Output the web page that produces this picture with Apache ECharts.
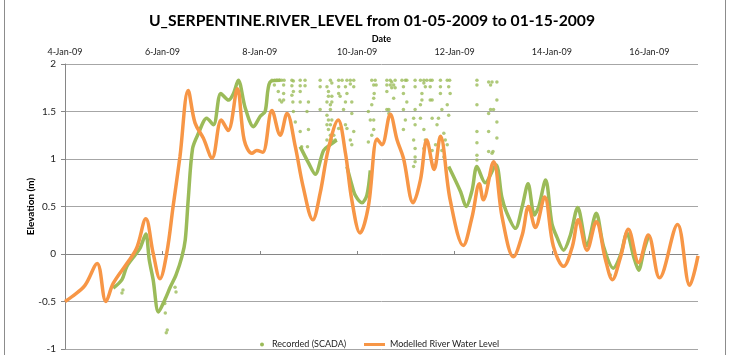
<!DOCTYPE html>
<html>
<head>
<meta charset="utf-8">
<title>U_SERPENTINE.RIVER_LEVEL</title>
<script src="https://cdn.jsdelivr.net/npm/echarts@6/dist/echarts.min.js"></script>
<style>
  html, body { margin: 0; padding: 0; background: #ffffff; }
  #chart { width: 730px; height: 355px; }
</style>
</head>
<body>
<div id="chart"></div>
<script>
// Day of January 2009 (fractional) and elevation in metres.
const xTicks = [4, 6, 8, 10, 12, 14, 16];
const yTicks = [-1, -0.5, 0, 0.5, 1, 1.5, 2];

// Modelled river water level
const modelled = [
  [4.00,-0.50],[4.14,-0.45],[4.41,-0.33],[4.66,-0.10],[4.84,-0.50],[4.99,-0.31],
  [5.27,-0.10],[5.47,0.06],[5.66,0.37],[5.81,0.01],[5.95,-0.26],[6.09,0.01],
  [6.22,0.50],[6.36,1.02],[6.53,1.72],[6.67,1.38],[6.84,1.22],[7.02,1.01],
  [7.21,1.41],[7.35,1.30],[7.54,1.74],[7.68,1.20],[7.84,1.06],[7.94,1.09],
  [8.06,1.07],[8.25,1.51],[8.42,1.25],[8.56,1.48],[8.73,1.13],[8.89,0.71],
  [9.09,0.36],[9.24,0.64],[9.41,1.11],[9.61,1.41],[9.76,1.06],[9.89,0.57],
  [10.06,0.22],[10.23,0.50],[10.41,1.21],[10.51,1.15],[10.68,1.47],[10.82,1.20],
  [10.95,1.01],[11.15,0.54],[11.30,0.78],[11.43,1.20],[11.58,0.89],[11.71,1.24],
  [11.91,0.57],[12.18,0.09],[12.36,0.39],[12.51,0.74],[12.59,0.57],[12.80,0.97],
  [12.98,0.38],[13.21,-0.03],[13.39,0.20],[13.52,0.50],[13.66,0.28],[13.85,0.60],
  [14.03,0.08],[14.24,-0.13],[14.42,0.08],[14.54,0.36],[14.72,0.04],[14.91,0.34],
  [15.10,-0.06],[15.24,-0.27],[15.41,-0.03],[15.57,0.26],[15.78,-0.09],[15.98,0.20],
  [16.21,-0.25],[16.58,0.31],[16.83,-0.33],[17.00,-0.02]
];

// Recorded (SCADA) continuous trace; null levels mark gaps in the record
const recordedTrace = [
  [4.99,-0.36],[5.17,-0.27],[5.27,-0.13],[5.44,-0.01],[5.54,0.06],[5.66,0.21],
  [5.73,-0.06],[5.81,-0.27],[5.92,-0.61],[6.06,-0.47],[6.16,-0.35],[6.28,-0.22],
  [6.40,-0.03],[6.47,0.15],[6.53,0.57],[6.62,1.11],[6.74,1.27],[6.91,1.43],
  [7.05,1.36],[7.20,1.69],[7.36,1.62],[7.46,1.69],[7.56,1.83],[7.70,1.54],
  [7.87,1.34],[8.01,1.45],[8.11,1.50],[8.21,1.81],[8.42,1.83],
  [8.60,null],
  [8.83,1.13],[9.00,0.96],[9.14,0.84],[9.31,1.09],[9.45,1.15],[9.58,1.20],
  [9.68,null],
  [9.79,0.92],[9.89,0.73],[9.96,0.62],[10.10,0.54],[10.20,0.62],[10.27,0.88],
  [11.00,null],
  [11.88,0.92],[12.12,0.66],[12.24,0.50],[12.36,0.67],[12.46,0.92],[12.63,0.75],
  [12.85,0.94],[12.97,0.60],[13.06,0.45],[13.25,0.27],[13.39,0.50],[13.51,0.74],
  [13.64,0.41],[13.73,0.50],[13.87,0.78],[14.00,0.32],[14.10,0.18],[14.24,0.04],
  [14.38,0.20],[14.53,0.49],[14.72,0.09],[14.91,0.43],[15.06,0.08],[15.26,-0.15],
  [15.41,-0.01],[15.54,0.22],[15.68,-0.03],[15.78,-0.17],[15.89,0.04],[15.99,0.20]
];

// Recorded (SCADA) isolated readings
const recordedSpikes = [
  [5.17,-0.41],[5.19,-0.38],[6.06,-0.62],[6.05,-0.52],[6.08,-0.83],[6.10,-0.80],
  [6.26,-0.35],[6.28,-0.40],[15.20,-0.22],
  [8.25,1.83],[8.30,1.83],[8.35,1.83],[8.41,1.83],[8.45,1.83],[8.50,1.83],
  [8.30,1.78],[8.49,1.78],[8.38,1.71],[8.49,1.69],[8.41,1.62],[8.45,1.60],[8.49,1.62],
  [8.66,1.83],[8.69,1.82],[8.66,1.77],[8.69,1.71],[8.66,1.67],[8.68,1.60],[8.69,1.50],[8.73,1.39],
  [8.83,1.83],[8.93,1.83],[8.83,1.77],[8.93,1.77],[8.83,1.71],[8.83,1.60],[9.00,1.60],
  [8.97,1.50],[8.83,1.29],[9.00,1.31],[8.86,1.13],[8.98,1.13],
  [9.24,1.83],[9.45,1.83],[9.48,1.80],[9.24,1.76],[9.38,1.76],[9.41,1.71],[9.41,1.66],
  [9.48,1.66],[9.38,1.60],[9.45,1.57],[9.48,1.60],[9.24,1.52],[9.45,1.52],[9.38,1.46],
  [9.41,1.41],[9.48,1.41],[9.38,1.36],[9.45,1.36],[9.41,1.31],[9.45,1.25],[9.52,1.25],
  [9.38,1.20],[9.48,1.20],[9.55,1.20],
  [9.62,1.83],[9.69,1.83],[9.79,1.83],[9.86,1.83],[9.93,1.83],[9.86,1.79],[9.62,1.76],
  [9.76,1.76],[9.93,1.76],[9.62,1.69],[9.79,1.69],[9.65,1.66],[9.76,1.60],[9.89,1.60],
  [9.72,1.52],[9.89,1.48],[9.76,1.36],[9.62,1.32],[9.79,1.32],[9.93,1.29],[9.86,1.20],[9.89,1.15],
  [10.30,1.83],[10.37,1.83],[10.34,1.78],[10.39,1.78],[10.35,1.69],[10.34,1.64],[10.30,1.57],
  [10.23,1.50],[10.27,1.41],[10.34,1.41],[10.34,1.31],[10.30,1.25],[10.23,1.18],
  [10.61,1.83],[10.68,1.83],[10.78,1.83],[10.71,1.81],[10.61,1.78],[10.68,1.78],[10.75,1.78],
  [10.71,1.75],[10.78,1.75],[10.61,1.71],[10.75,1.64],[10.61,1.52],[10.65,1.52],[10.65,1.48],
  [10.92,1.83],[10.99,1.83],[11.02,1.83],[10.95,1.76],[10.95,1.69],[11.02,1.60],[10.95,1.52],
  [10.99,1.41],[10.95,1.31],
  [11.19,1.83],[11.30,1.83],[11.37,1.83],[11.43,1.83],[11.50,1.83],[11.54,1.83],[11.37,1.80],
  [11.19,1.76],[11.40,1.76],[11.50,1.76],[11.33,1.69],[11.33,1.62],[11.50,1.62],[11.30,1.57],
  [11.19,1.52],[11.16,1.43],[11.30,1.43],[11.19,1.36],[11.37,1.31],[11.16,1.20],[11.40,1.20],
  [11.19,1.11],[11.37,1.11],[11.19,1.02],[11.19,0.97],[11.16,0.92],
  [11.71,1.83],[11.85,1.83],[11.90,1.83],[11.71,1.76],[11.88,1.76],[11.71,1.69],[11.91,1.69],
  [11.54,1.62],[11.85,1.57],[11.74,1.52],[11.88,1.46],[11.54,1.43],[11.67,1.43],[11.64,1.36],
  [11.78,1.27],[11.81,1.20],[11.61,1.15],[11.85,1.15],[11.54,1.09],[11.74,1.09],[11.78,1.02],
  [12.46,1.83],[12.46,1.78],[12.46,1.57],[12.46,1.29],[12.46,1.17],[12.46,1.04],[12.46,0.99],
  [12.70,1.81],[12.77,1.81],[12.87,1.81],[12.74,1.78],[12.87,1.62],[12.74,1.52],[12.80,1.52],
  [12.70,1.48],[12.87,1.39],[12.70,1.29],[12.87,1.22],[12.70,1.08],[12.79,1.08],[12.77,1.06]
];

const GREEN = '#9BBB59';
const ORANGE = '#F79646';
const FONT = "Lato, 'Noto Sans', sans-serif";
const AXIS_GREY = '#868686';

const chart = echarts.init(document.getElementById('chart'), null, { renderer: 'canvas' });

chart.setOption({
  backgroundColor: '#ffffff',
  animation: false,
  textStyle: { fontFamily: FONT, color: '#222' },
  title: {
    text: 'U_SERPENTINE.RIVER_LEVEL from 01-05-2009 to 01-15-2009',
    left: 367,
    top: 8,
    textAlign: 'center',
    textStyle: { fontFamily: FONT, fontSize: 15.7, fontWeight: 'bold', color: '#000' }
  },
  graphic: [
    { type: 'line', shape: { x1: 4.5, y1: 0, x2: 4.5, y2: 355 }, style: { stroke: '#8c8c8c', lineWidth: 1 } },
    { type: 'line', shape: { x1: 725.5, y1: 0, x2: 725.5, y2: 355 }, style: { stroke: '#8c8c8c', lineWidth: 1 } }
  ],
  legend: [
    {
      data: [{ name: 'Recorded (SCADA)', icon: 'circle' }],
      left: 255, top: 335,
      itemWidth: 10, itemHeight: 4,
      textStyle: { fontFamily: FONT, fontSize: 9, color: '#222' }
    },
    {
      data: [{ name: 'Modelled River Water Level', icon: 'rect' }],
      left: 359, top: 335,
      itemWidth: 21, itemHeight: 3,
      textStyle: { fontFamily: FONT, fontSize: 9, color: '#222' }
    }
  ],
  grid: { left: 65, right: 32, top: 64, bottom: 6, containLabel: false },
  xAxis: {
    type: 'value',
    position: 'top',
    min: 4, max: 17, interval: 2,
    name: 'Date',
    nameLocation: 'middle',
    nameGap: 20,
    nameMoveOverlap: false,
    nameTextStyle: { fontFamily: FONT, fontSize: 9, fontWeight: 'bold', color: '#000' },
    axisLine: { show: true, lineStyle: { color: AXIS_GREY, width: 1 } },
    axisTick: { show: true, length: 3, lineStyle: { color: AXIS_GREY } },
    axisLabel: {
      margin: 7,
      fontSize: 9,
      color: '#222',
      showMaxLabel: false,
      formatter: v => (xTicks.indexOf(v) >= 0 ? v + '-Jan-09' : '')
    },
    splitLine: { show: false }
  },
  yAxis: {
    type: 'value',
    min: -1, max: 2, interval: 0.5,
    name: 'Elevation (m)',
    nameLocation: 'middle',
    nameGap: 29,
    nameMoveOverlap: false,
    nameRotate: 90,
    nameTextStyle: { fontFamily: FONT, fontSize: 10, fontWeight: 'bold', color: '#000' },
    axisLine: { show: true, lineStyle: { color: AXIS_GREY, width: 1 } },
    axisTick: { show: true, length: 4, lineStyle: { color: AXIS_GREY } },
    axisLabel: {
      margin: 9,
      fontSize: 10,
      color: '#222',
      formatter: v => (yTicks.indexOf(v) >= 0 ? String(v) : '')
    },
    splitLine: { show: true, lineStyle: { color: '#a6a6a6', width: 1 } }
  },
  series: [
    {
      name: 'Recorded (SCADA)',
      type: 'line',
      data: recordedTrace,
      smooth: 0.3,
      showSymbol: false,
      connectNulls: false,
      itemStyle: { color: GREEN },
      lineStyle: { color: GREEN, width: 3.5 },
      z: 2
    },
    {
      name: 'Recorded (SCADA)',
      type: 'scatter',
      data: recordedSpikes,
      symbol: 'circle',
      symbolSize: 3.5,
      itemStyle: { color: GREEN },
      z: 2
    },
    {
      name: 'Modelled River Water Level',
      type: 'line',
      data: modelled,
      smooth: 0.35,
      showSymbol: false,
      itemStyle: { color: ORANGE },
      lineStyle: { color: ORANGE, width: 3.5 },
      z: 3
    }
  ]
});
</script>
</body>
</html>
